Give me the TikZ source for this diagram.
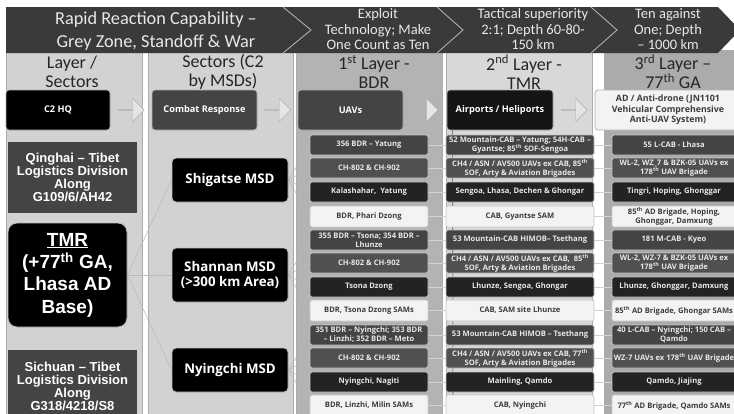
\documentclass[tikz,border=0pt]{standalone}
\usepackage{fontspec}
\setmainfont{Carlito}
\newfontfamily\osans{Open Sans}
\newfontfamily\lsans{Liberation Sans}
\usetikzlibrary{shapes.arrows,calc}
\pgfdeclarelayer{back}
\pgfdeclarelayer{mid}
\pgfsetlayers{back,mid,main}
\definecolor{banner}{HTML}{3A3A3A}
\definecolor{colA}{HTML}{D2D2D2}
\definecolor{colC}{HTML}{B3B3B3}
\definecolor{colD}{HTML}{D8D8D8}
\definecolor{colE}{HTML}{ABABAB}
\definecolor{boxA}{HTML}{444444}
\definecolor{boxB}{HTML}{505050}
\definecolor{boxC}{HTML}{232323}
\definecolor{boxL}{HTML}{F3F3F3}
\definecolor{txtD}{HTML}{3C3C3C}
\definecolor{txtW}{HTML}{E8E8E8}
\begin{document}
\begin{tikzpicture}[x=1pt,y=-1pt,
  hdr/.style={font=\fontsize{18}{19}\selectfont, text=black!85, align=center, inner sep=0pt},
  bantext/.style={font=\fontsize{18.3}{23}\selectfont, text=txtW, align=center, inner sep=0pt},
  bansmall/.style={font=\fontsize{14.5}{15.5}\selectfont, text=txtW, align=center, inner sep=0pt},
  topbox/.style={rounded corners=3pt, draw=gray!60, line width=0.8pt, minimum height=40pt, align=center, text=white, font=\osans\bfseries\fontsize{9.2}{10.5}\selectfont, inner sep=1pt},
  barrow/.style={single arrow, draw=gray!65, fill=gray!20, minimum height=26pt, minimum width=23pt, single arrow head extend=5pt, inner sep=0pt},
  logi/.style={fill=boxA, minimum width=129pt, align=center, text=white, font=\lsans\bfseries\fontsize{13}{13}\selectfont, inner sep=0pt},
  msd/.style={rounded corners=4pt, fill=black, draw=gray!50, line width=0.8pt, minimum width=116pt, align=center, text=white, font=\osans\bfseries\fontsize{13.3}{15}\selectfont, inner sep=0pt},
  sbox/.style={rounded corners=2pt, draw=gray!45, line width=0.8pt, minimum height=20pt, inner sep=0.5pt, align=center, font=\osans\bfseries\fontsize{7.6}{9}\selectfont},
  rA/.style={sbox, fill=boxA, text=txtW},
  rB/.style={sbox, fill=boxB, text=txtW},
  rC/.style={sbox, fill=boxC, text=txtW},
  rL/.style={sbox, fill=boxL, text=txtD, minimum height=21pt},
  kA/.style={minimum width=118pt},
  kB/.style={minimum width=148pt},
  kC/.style={minimum width=124pt},
  fan/.style={draw=gray!55, line width=0.5pt},
  link/.style={draw=gray!35, line width=0.6pt}
]
\useasboundingbox (0,0) rectangle (734,413);
\clip (0,0) rectangle (734,413);

% column panels
\begin{pgfonlayer}{back}
\fill[white] (0,0) rectangle (734,413);
\filldraw[fill=colA, draw=gray!65, line width=0.6pt] (6,50) rectangle (142,420);
\filldraw[fill=colA, draw=gray!65, line width=0.6pt] (148,50) rectangle (293,420);
\filldraw[fill=colC, draw=gray!65, line width=0.6pt] (296,50) rectangle (442,420);
\filldraw[fill=colD, draw=gray!65, line width=0.6pt] (446,50) rectangle (592,420);
\filldraw[fill=colE, draw=gray!65, line width=0.6pt] (604,50) rectangle (740,420);
\end{pgfonlayer}

% banner
\fill[banner] (6,7) -- (718,7) -- (740,30) -- (718,53) -- (6,53) -- cycle;
\draw[gray!55, line width=0.8pt] (283,7) -- (311,30) -- (283,53);
\draw[gray!55, line width=0.8pt] (437,7) -- (463,30) -- (437,53);
\draw[gray!55, line width=0.8pt] (591,7) -- (617,30) -- (591,53);
\node[bantext] (ban1) at (156,31.5) {Rapid Reaction Capability –\\Grey Zone, Standoff \& War};
\node[bansmall] (ban2) at (378,29.5) {Exploit\\Technology; Make\\One Count as Ten};
\node[bansmall] (ban3) at (533,29.5) {Tactical superiority\\2:1; Depth 60-80-\\150 km};
\node[bansmall] (ban4) at (668,29.5) {Ten against\\One; Depth\\– 1000 km};

% headers
\node[hdr] (h1) at (72,72) {Layer /\\Sectors};
\node[hdr] (h2) at (223,72) {Sectors (C2\\by MSDs)};
\node[hdr] (h3) at (374,72) {1\textsuperscript{st} Layer -\\BDR};
\node[hdr] (h4) at (524,72) {2\textsuperscript{nd} Layer -\\TMR};
\node[hdr] (h5) at (673,72) {3\textsuperscript{rd} Layer –\\77\textsuperscript{th} GA};

% top row
\node[topbox, fill=black, minimum width=104pt] (c2hq) at (58,110) {C2 HQ};
\node[topbox, fill=boxA, minimum width=105pt] (combat) at (204.5,110) {Combat Response};
\node[topbox, fill=boxA, minimum width=105pt] (uavs) at (350.5,110) {UAVs};
\node[topbox, fill=black!92, minimum width=106pt] (airports) at (500,110) {Airports / Heliports};
\node[topbox, fill=boxL, text=txtD, minimum width=146pt, font=\osans\bfseries\fontsize{8.8}{10.5}\selectfont] (ad) at (668,110) {AD / Anti-drone (JN1101\\Vehicular Comprehensive\\Anti-UAV System)};
\node[barrow] (ar1) at ($(c2hq.east)!0.5!(combat.west)$) {};
\node[barrow] (ar2) at ($(combat.east)!0.5!(uavs.west)$) {};
\node[barrow] (ar3) at ($(uavs.east)!0.5!(airports.west)$) {};
\node[barrow] (ar4) at ($(airports.east)!0.5!(ad.west)$) {};

% column 1
\node[logi, minimum height=71pt] (qinghai) at (72.5,177.5) {Qinghai – Tibet\\Logistics Division\\Along\\G109/6/AH42};
\node[rounded corners=9pt, fill=black, draw=gray!50, line width=0.8pt, minimum width=119pt, minimum height=104pt, font=\lsans\bfseries\fontsize{19}{22.3}\selectfont, text=white, align=center, inner sep=0pt] (tmr) at (67.5,275) {\underline{TMR}\\(+77\textsuperscript{th} GA,\\Lhasa AD\\Base)};
\node[logi, minimum height=72pt] (sichuan) at (72.5,386) {Sichuan – Tibet\\Logistics Division\\Along\\G318/4218/S8};

% column 2
\node[msd, minimum height=44pt] (shigatse) at (230,180) {Shigatse MSD};
\node[msd, minimum height=54pt] (shannan) at (230,275) {Shannan MSD\\(>300 km Area)};
\node[msd, minimum height=44pt] (nyingchi) at (230,370) {Nyingchi MSD};

% column 3
\node[rA,kA] (a11) at (369,145) {356 BDR – Yatung};
\node[rB,kA] (a12) at (369,168) {CH-802 \& CH-902};
\node[rC,kA] (a13) at (369,192) {Kalashahar,\ \ Yatung};
\node[rL,kA] (a14) at (369,216.5) {BDR, Phari Dzong};
\node[rA,kA] (a21) at (369,240) {355 BDR – Tsona; 354 BDR –\\Lhunze};
\node[rB,kA] (a22) at (369,263) {CH-802 \& CH-902};
\node[rC,kA] (a23) at (369,287) {Tsona Dzong};
\node[rL,kA] (a24) at (369,310.5) {BDR, Tsona Dzong SAMs};
\node[rA,kA] (a31) at (369,335) {351 BDR – Nyingchi; 353 BDR\\– Linzhi; 352 BDR – Meto};
\node[rB,kA] (a32) at (369,358) {CH-802 \& CH-902};
\node[rC,kA] (a33) at (369,382) {Nyingchi, Nagiti};
\node[rL,kA] (a34) at (369,405.5) {BDR, Linzhi, Milin SAMs};

% column 4
\node[rA,kB] (b11) at (520,145) {52 Mountain-CAB – Yatung; 54H-CAB –\\Gyantse; 85\textsuperscript{th} SOF-Sengoa};
\node[rB,kB] (b12) at (520,168) {CH4 / ASN / AV500 UAVs ex CAB, 85\textsuperscript{th}\\SOF, Arty \& Aviation Brigades};
\node[rC,kB] (b13) at (520,192) {Sengoa, Lhasa, Dechen \& Ghongar};
\node[rL,kB] (b14) at (520,216.5) {CAB, Gyantse SAM};
\node[rA,kB] (b21) at (520,240) {53 Mountain-CAB HIMOB– Tsethang};
\node[rB,kB] (b22) at (520,263) {CH4 / ASN / AV500 UAVs ex CAB,\ \ 85\textsuperscript{th}\\SOF, Arty \& Aviation Brigades};
\node[rC,kB] (b23) at (520,287) {Lhunze, Sengoa, Ghongar};
\node[rL,kB] (b24) at (520,310.5) {CAB, SAM site Lhunze};
\node[rA,kB] (b31) at (520,335) {53 Mountain-CAB HIMOB – Tsethang};
\node[rB,kB] (b32) at (520,358) {CH4 / ASN / AV500 UAVs ex CAB, 77\textsuperscript{th}\\SOF, Arty \& Aviation Brigades};
\node[rC,kB] (b33) at (520,382) {Mainling, Qamdo};
\node[rL,kB] (b34) at (520,405.5) {CAB, Nyingchi};

% column 5
\node[rA,kC] (c11) at (674,145) {55 L-CAB - Lhasa};
\node[rB,kC] (c12) at (674,168) {WL-2, WZ\_7 \& BZK-05 UAVs ex\\178\textsuperscript{th} UAV Brigade};
\node[rC,kC] (c13) at (674,192) {Tingri, Hoping, Ghonggar};
\node[rL,kC] (c14) at (674,216.5) {85\textsuperscript{th} AD Brigade, Hoping,\\Ghonggar, Damxung};
\node[rA,kC] (c21) at (674,240) {181 M-CAB - Kyeo};
\node[rB,kC] (c22) at (674,263) {WL-2, WZ-7 \& BZK-05 UAVs ex\\178\textsuperscript{th} UAV Brigade};
\node[rC,kC] (c23) at (674,287) {Lhunze, Ghonggar, Damxung};
\node[rL,kC] (c24) at (674,310.5) {85\textsuperscript{th} AD Brigade, Ghongar SAMs};
\node[rA,kC] (c31) at (674,335) {40 L-CAB – Nyingchi; 150 CAB –\\Qamdo};
\node[rB,kC] (c32) at (674,358) {WZ-7 UAVs ex 178\textsuperscript{th} UAV Brigade};
\node[rC,kC] (c33) at (674,382) {Qamdo, Jiajing};
\node[rL,kC] (c34) at (674,405.5) {77\textsuperscript{th} AD Brigade, Qamdo SAMs};

\coordinate (vbot) at (453,420);

% connectors
\begin{pgfonlayer}{mid}
\draw[fan] (tmr.east) -- (shigatse.west);
\draw[fan] (tmr.east) -- (shannan.west);
\draw[fan] (tmr.east) -- (nyingchi.west);
\foreach \g/\m in {1/shigatse,2/shannan,3/nyingchi}{
  \foreach \r in {1,...,4}{
    \draw[fan] (\m.east) -- (a\g\r.west);
    \draw[link] (a\g\r.east) -- (b\g\r.west);
    \draw[link] (b\g\r.east) -- (c\g\r.west);
  }
}
\draw[black!70, line width=0.6pt] ($(airports.south west)+(6pt,0)$) -- (vbot);
\end{pgfonlayer}
\end{tikzpicture}
\end{document}
